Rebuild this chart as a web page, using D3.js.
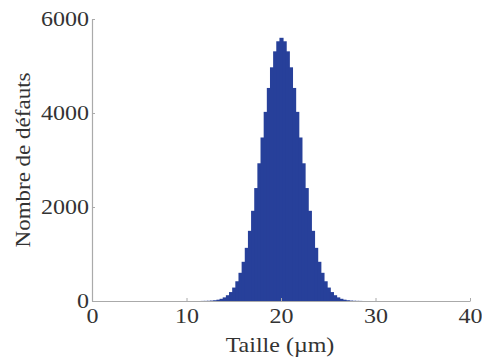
<!DOCTYPE html>
<html><head><meta charset="utf-8">
<script src="https://cdn.jsdelivr.net/npm/d3@7"></script>
<style>body{margin:0;background:#fff}svg{display:block}</style>
</head><body>
<svg id="c" width="482" height="361"></svg>
<script>
const binWidth = 1/3;
const binStart = 11.5;
const counts = [2,3,5,9,16,28,47,77,123,190,286,420,600,834,1131,1493,1919,2403,2930,3479,4024,4533,4972,5312,5526,5600,5526,5312,4972,4533,4024,3479,2930,2403,1919,1493,1131,834,600,420,286,190,123,77,47,28,16,9,5,3,2];
const xTicks = [0,10,20,30,40];
const yTicks = [0,2000,4000,6000];
const xLabel = "Taille (µm)";
const yLabel = "Nombre de défauts";

const svg = d3.select("#c");
const m = {l:92, r:470, t:19, b:301};
const x = d3.scaleLinear().domain([0,40]).range([m.l,m.r]);
const y = d3.scaleLinear().domain([0,6000]).range([m.b,m.t]);

const bins = counts.map((c,i)=>({x0: binStart + i*binWidth, x1: binStart+(i+1)*binWidth, c}));

svg.append("g").selectAll("rect").data(bins).join("rect")
  .attr("x", d=>x(d.x0)).attr("width", d=>x(d.x1)-x(d.x0)+1)
  .attr("y", d=>y(d.c)).attr("height", d=>y(0)-y(d.c))
  .attr("fill", "#27409a");

const font = "'Liberation Serif','Times New Roman',serif";
const gx = svg.append("g").attr("transform",`translate(0,${m.b})`)
  .call(d3.axisBottom(x).tickValues(xTicks).tickSizeInner(-3).tickSizeOuter(0).tickPadding(8).tickFormat(d3.format("d")));
const gy = svg.append("g").attr("transform",`translate(${m.l},0)`)
  .call(d3.axisLeft(y).tickValues(yTicks).tickSizeInner(-3).tickSizeOuter(0).tickPadding(3).tickFormat(d3.format("d")));
[gx,gy].forEach(g=>{
  g.select(".domain").attr("stroke","#aaa").attr("stroke-width",1.2);
  g.selectAll(".tick line").attr("stroke","#aaa");
  g.selectAll(".tick text").attr("fill","#333").style("font-family",font).style("font-size","20px");
});
gx.selectAll(".tick text").attr("transform","scale(1.2,1)");
gy.selectAll(".tick text").each(function(){
  const t = d3.select(this); const xx = +t.attr("x");
  t.attr("transform",`translate(${xx},0) scale(1.2,1)`).attr("x",0);
});

svg.append("text").attr("transform",`translate(${(m.l+m.r)/2-1},352) scale(1.2,1)`).attr("text-anchor","middle")
  .attr("fill","#333").style("font-family",font).style("font-size","20px").text(xLabel);
svg.append("text").attr("transform","translate(30,160) rotate(-90) scale(1.15,1)").attr("text-anchor","middle")
  .attr("fill","#333").style("font-family",font).style("font-size","20px").text(yLabel);
</script>
</body></html>
